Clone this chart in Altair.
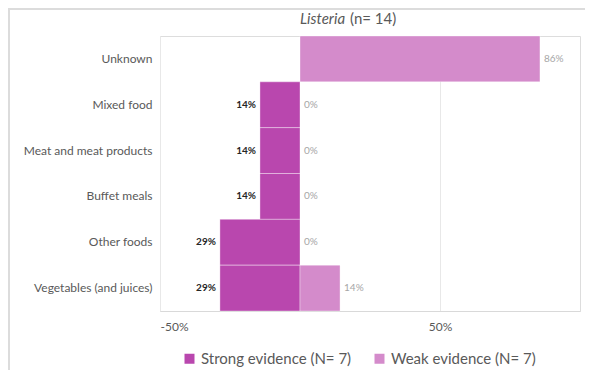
import altair as alt
import pandas as pd

# ---- data ----
categories = ["Unknown", "Mixed food", "Meat and meat products", "Buffet meals",
              "Other foods", "Vegetables (and juices)"]
strong_values = [0, 14.3, 14.3, 14.3, 28.6, 28.6]
weak_values = [85.7, 0, 0, 0, 0, 14.3]
series_names = ["Strong evidence (N= 7)", "Weak evidence (N= 7)"]
series_colors = ["#B947AE", "#D48BCB"]
title_italic = "Listeria"
title_rest = "(n= 14)"
x_tick_values = [-50, 50]

rows = []
for c, s, w in zip(categories, strong_values, weak_values):
    rows.append({"category": c, "series": series_names[0], "value": s, "signed": -s})
    rows.append({"category": c, "series": series_names[1], "value": w, "signed": w})
df = pd.DataFrame(rows)

FONT = "Lato"
GRAY = "#595959"

y_enc = alt.Y("category:N", sort=categories,
              scale=alt.Scale(paddingInner=0, paddingOuter=0),
              axis=alt.Axis(title=None, domain=False, ticks=False, labelFontSize=12,
                            labelColor=GRAY, labelPadding=8, labelFont=FONT, labelLimit=300))
x_enc = alt.X("signed:Q", scale=alt.Scale(domain=[-50, 100], nice=False),
              axis=alt.Axis(title=None, values=x_tick_values, labelExpr="datum.value + '%'",
                            grid=True, gridColor="#e8e8e8", domainColor="#d9d9d9",
                            ticks=False, labelPadding=10, labelFontSize=12,
                            labelColor=GRAY, labelFont=FONT))

base = alt.Chart(df)

bars = base.transform_filter("datum.value > 0").mark_bar(
    stroke="white", strokeWidth=0.6, strokeOpacity=0.6
).encode(
    y=y_enc,
    x=x_enc,
    color=alt.Color("series:N",
                    scale=alt.Scale(domain=series_names, range=series_colors),
                    legend=alt.Legend(orient="none", legendX=22, legendY=315,
                                      direction="horizontal", title=None,
                                      symbolType="square", symbolSize=100,
                                      symbolStrokeWidth=0, labelFontSize=15,
                                      labelColor=GRAY, labelFont=FONT,
                                      columnPadding=20, labelOffset=4,
                                      labelLimit=300)),
)

strong_labels = base.transform_filter(
    f"datum.series == '{series_names[0]}' && datum.value > 0"
).transform_calculate(
    label="format(datum.value, '.0f') + '%'"
).mark_text(align="right", baseline="middle", dx=-4, fontSize=10,
            fontWeight="bold", color="#262626", font=FONT).encode(
    y=alt.Y("category:N", sort=categories), x="signed:Q", text="label:N")

weak_labels = base.transform_filter(
    f"datum.series == '{series_names[1]}'"
).transform_calculate(
    label="format(datum.value, '.0f') + '%'"
).mark_text(align="left", baseline="middle", dx=4, fontSize=10,
            color="#A6A6A6", font=FONT).encode(
    y=alt.Y("category:N", sort=categories), x="signed:Q", text="label:N")

title_df = pd.DataFrame({"a": [title_italic], "b": [title_rest]})
title1 = alt.Chart(title_df).mark_text(
    align="left", baseline="middle", fontSize=15, fontStyle="italic",
    color=GRAY, font=FONT).encode(x=alt.value(140), y=alt.value(-17), text="a:N")
title2 = alt.Chart(title_df).mark_text(
    align="left", baseline="middle", fontSize=15,
    color=GRAY, font=FONT).encode(x=alt.value(190), y=alt.value(-17), text="b:N")

frame = alt.Chart(title_df).mark_rect(
    fill=None, stroke="#dcdcdc", strokeWidth=2).encode(
    x=alt.value(-151), x2=alt.value(700), y=alt.value(-27), y2=alt.value(700))

chart = alt.layer(frame, bars, strong_labels, weak_labels, title1, title2).properties(
    width=420, height=275,
    autosize=alt.AutoSizeParams(type="none"),
    padding={"left": 152, "top": 28, "right": 5, "bottom": 59},
).configure_view(stroke=None).configure(font=FONT)

chart.save("out.html", embed_options={"renderer": "svg", "actions": False})
